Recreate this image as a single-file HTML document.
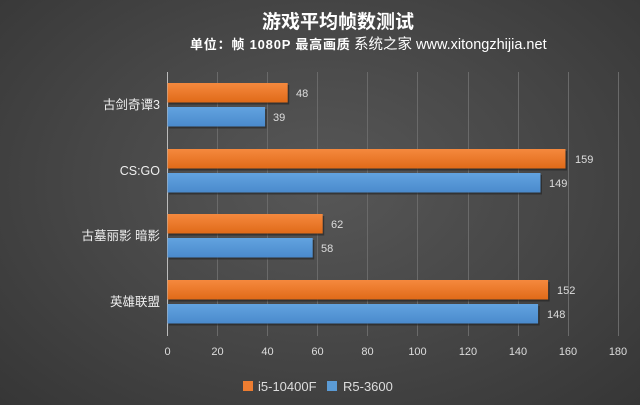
<!DOCTYPE html>
<html><head><meta charset="utf-8"><style>
html,body{margin:0;padding:0}
body{width:640px;height:405px;overflow:hidden;background:radial-gradient(ellipse at 50% 45%,#575757 0%,#474747 50%,#363636 100%);font-family:"Liberation Sans","Noto Sans CJK SC",sans-serif;position:relative}
</style></head><body>
<svg width="640" height="405" xmlns="http://www.w3.org/2000/svg" style="position:absolute;left:0;top:0;font-family:'Liberation Sans','Noto Sans CJK SC',sans-serif">
<defs>
<linearGradient id="o" x1="0" y1="0" x2="0" y2="1"><stop offset="0" stop-color="#f5893e"/><stop offset="1" stop-color="#e06a18"/></linearGradient>
<linearGradient id="b" x1="0" y1="0" x2="0" y2="1"><stop offset="0" stop-color="#62a3e0"/><stop offset="1" stop-color="#4a8acc"/></linearGradient>
</defs>
<text x="338" y="28" text-anchor="middle" font-size="19" font-weight="bold" fill="#fff">游戏平均帧数测试</text>
<text x="190" y="49" font-size="13" font-weight="bold" fill="#fff" letter-spacing="0.8">单位：帧  1080P 最高画质</text>
<text x="354" y="49" font-size="14.5" fill="#fff">系统之家 www.xitongzhijia.net</text>
<g stroke="#6a6a6a" stroke-width="1">
<line x1="217.5" y1="72" x2="217.5" y2="336"/><line x1="267.5" y1="72" x2="267.5" y2="336"/><line x1="317.5" y1="72" x2="317.5" y2="336"/><line x1="367.5" y1="72" x2="367.5" y2="336"/><line x1="417.5" y1="72" x2="417.5" y2="336"/><line x1="468.5" y1="72" x2="468.5" y2="336"/><line x1="518.5" y1="72" x2="518.5" y2="336"/><line x1="568.5" y1="72" x2="568.5" y2="336"/><line x1="618.5" y1="72" x2="618.5" y2="336"/>
</g>
<line x1="167.5" y1="72" x2="167.5" y2="336" stroke="#bbb" stroke-width="1"/>
<g fill="#222" opacity="0.6">
<rect x="169" y="85" width="120.2" height="19.5"/><rect x="169" y="109" width="97.6" height="19.5"/>
<rect x="169" y="151" width="398" height="19.5"/><rect x="169" y="175" width="373" height="19.5"/>
<rect x="169" y="216" width="155.2" height="19.5"/><rect x="169" y="240" width="145.2" height="19.5"/>
<rect x="169" y="282" width="380.6" height="19.5"/><rect x="169" y="306" width="370.6" height="19.5"/>
</g>
<rect x="167.5" y="83" width="120.2" height="19.5" fill="url(#o)"/><rect x="167.5" y="107" width="97.6" height="19.5" fill="url(#b)"/>
<rect x="167.5" y="149" width="398" height="19.5" fill="url(#o)"/><rect x="167.5" y="173" width="373" height="19.5" fill="url(#b)"/>
<rect x="167.5" y="214" width="155.2" height="19.5" fill="url(#o)"/><rect x="167.5" y="238" width="145.2" height="19.5" fill="url(#b)"/>
<rect x="167.5" y="280" width="380.6" height="19.5" fill="url(#o)"/><rect x="167.5" y="304" width="370.6" height="19.5" fill="url(#b)"/>
<g font-size="11" fill="#ddd">
<text x="296" y="97">48</text><text x="273" y="121">39</text>
<text x="575" y="163">159</text><text x="549" y="187">149</text>
<text x="331" y="228">62</text><text x="321" y="252">58</text>
<text x="557" y="294">152</text><text x="547" y="318">148</text>
</g>
<g font-size="12.5" fill="#eee" text-anchor="end">
<text x="160" y="109">古剑奇谭3</text><text x="160" y="175">CS:GO</text><text x="160" y="240">古墓丽影 暗影</text><text x="160" y="306">英雄联盟</text>
</g>
<g font-size="11" fill="#ddd" text-anchor="middle">
<text x="167.5" y="355">0</text><text x="217.5" y="355">20</text><text x="267.5" y="355">40</text><text x="317.5" y="355">60</text><text x="367.5" y="355">80</text><text x="417.5" y="355">100</text><text x="468" y="355">120</text><text x="518" y="355">140</text><text x="568" y="355">160</text><text x="618" y="355">180</text>
</g>
<rect x="243" y="381" width="10" height="10" fill="#ed7d31"/>
<text x="258" y="391" font-size="13" fill="#ddd">i5-10400F</text>
<rect x="327" y="381" width="10" height="10" fill="#5b9bd5"/>
<text x="343" y="391" font-size="13" fill="#ddd">R5-3600</text>
</svg>
</body></html>
